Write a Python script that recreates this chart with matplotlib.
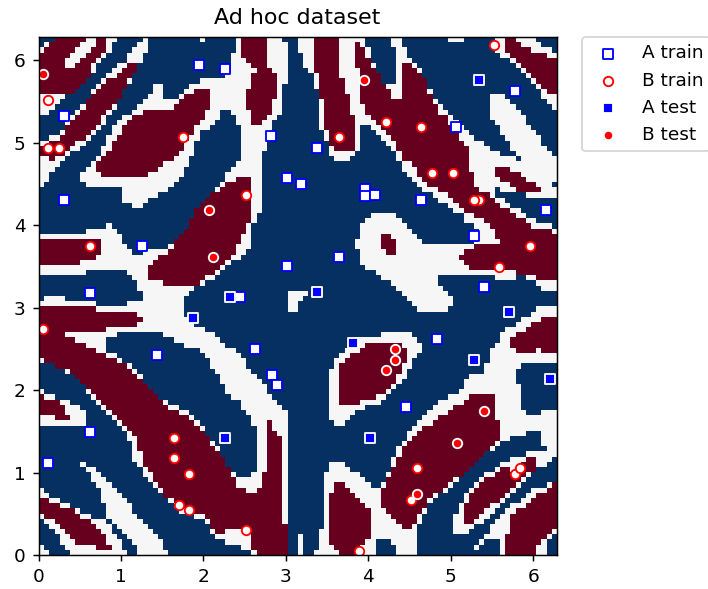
import numpy as np
import matplotlib
matplotlib.use('Agg')
import matplotlib.pyplot as plt
from matplotlib.path import Path

# Training and test samples (radians)
a_train_x = [1.95, 2.26, 0.315, 2.82, 3.01, 3.18, 0.315, 1.26, 3.01, 0.62, 2.45, 3.38, 3.96, 3.96, 4.08, 4.64,
             5.07, 5.78, 6.15, 5.28, 3.64, 5.40, 1.44, 2.63, 2.83, 2.89, 0.62, 0.12, 4.83, 4.46]
a_train_y = [5.94, 5.89, 5.32, 5.08, 4.57, 4.50, 4.31, 3.75, 3.50, 3.18, 3.13, 4.94, 4.44, 4.35, 4.37, 4.31,
             5.19, 5.63, 4.19, 3.87, 3.62, 3.25, 2.43, 2.50, 2.18, 2.06, 1.49, 1.11, 2.62, 1.80]
b_train_x = [0.12, 0.11, 0.25, 1.75, 2.52, 0.62, 5.52, 3.64, 4.21, 4.64, 4.77, 5.03, 5.34, 5.28, 5.96, 5.58,
             0.06, 1.64, 1.64, 1.82, 1.70, 1.82, 2.52, 4.59, 4.52, 5.78, 5.84, 3.89]
b_train_y = [5.52, 4.94, 4.94, 5.07, 4.37, 3.75, 6.19, 5.07, 5.25, 5.19, 4.63, 4.63, 4.31, 4.31, 3.75, 3.49,
             2.74, 1.42, 1.18, 0.98, 0.61, 0.54, 0.30, 1.05, 0.67, 0.98, 1.05, 0.05]
a_test_x = [2.32, 5.34, 3.38, 1.88, 2.26, 3.82, 5.71, 5.28, 6.21, 4.02]
a_test_y = [3.13, 5.76, 3.19, 2.88, 1.42, 2.57, 2.95, 2.37, 2.13, 1.42]
b_test_x = [0.06, 2.07, 2.12, 3.95, 4.33, 4.33, 4.21, 5.40, 5.08, 4.59]
b_test_y = [5.83, 4.19, 3.62, 5.76, 2.50, 2.37, 2.24, 1.75, 1.36, 0.74]

# Class regions of the background, outlined on 3x crops of the chart.
# Each list holds outlines for one crop, the crop corner is in CROPS.
CROPS = {'tl': (30, 30), 'tr': (295, 30), 'bl': (30, 295), 'br': (295, 295)}

white_regions = {
    'tl': [
        [(20, 45), (55, 38), (75, 20), (258, 20), (240, 50), (225, 80), (195, 110), (178, 140), (130, 180),
         (85, 205), (60, 235), (40, 255), (20, 255)],
        [(20, 470), (40, 470), (55, 425), (85, 395), (150, 350), (165, 335), (195, 300), (230, 265), (290, 165),
         (320, 120), (322, 100), (352, 60), (352, 20), (320, 28), (290, 82), (240, 120), (210, 155), (150, 225),
         (100, 285), (70, 315), (40, 335), (20, 340)],
        [(150, 430), (195, 385), (240, 300), (290, 250), (340, 210), (370, 165), (395, 165), (395, 210), (430, 210),
         (490, 155), (540, 145), (600, 130), (615, 20), (755, 20), (772, 60), (772, 160), (755, 160), (755, 235),
         (725, 280), (695, 380), (695, 520), (665, 600), (660, 660), (600, 700), (550, 745), (480, 780), (460, 815),
         (340, 815), (320, 760), (290, 735), (285, 720), (200, 720), (150, 730), (20, 735), (20, 705), (130, 705),
         (190, 680), (210, 675), (210, 625), (40, 625), (20, 640), (20, 610), (150, 610), (165, 595), (240, 585),
         (270, 610), (290, 660), (320, 675), (352, 660), (400, 655), (430, 625), (475, 580), (490, 545), (540, 490),
         (570, 460), (600, 410), (630, 385), (630, 290), (600, 240), (570, 240), (568, 270), (505, 310), (475, 400),
         (430, 470), (365, 500), (320, 535), (275, 505), (275, 470), (180, 470), (150, 450)],
        [(505, 20), (520, 20), (520, 36), (505, 36)],
    ],
    'tr': [
        [(5, 20), (180, 20), (180, 100), (195, 205), (220, 280), (195, 290), (195, 345), (178, 380), (130, 390),
         (100, 365), (85, 300), (70, 285), (70, 205), (52, 130), (40, 130), (25, 90), (5, 40)],
        [(180, 20), (210, 20), (225, 80), (240, 110), (258, 145), (270, 160), (305, 160), (305, 80), (290, 40),
         (290, 20), (320, 20), (335, 70), (365, 105), (385, 130), (410, 185), (430, 210), (475, 265), (520, 305),
         (520, 400), (548, 475), (600, 505), (650, 545), (690, 570), (720, 590), (770, 595), (790, 595), (790, 750),
         (600, 735), (535, 720), (490, 680), (505, 645), (540, 645), (565, 630), (550, 590), (510, 570), (490, 545),
         (430, 510), (380, 475), (350, 440), (320, 415), (305, 380), (290, 350), (240, 300), (225, 280), (195, 290)],
        [(475, 265), (520, 305), (550, 330), (600, 365), (650, 380), (695, 395), (645, 345), (615, 300), (585, 260),
         (585, 190), (625, 190), (660, 225), (690, 260), (720, 305), (755, 350), (790, 380), (790, 460), (770, 460),
         (770, 472), (790, 475), (790, 505), (740, 500), (680, 490), (600, 475), (600, 510), (540, 480), (490, 300)],
        [(600, 490), (630, 510), (660, 535), (690, 550), (725, 570), (760, 582), (790, 590), (790, 610), (740, 605),
         (690, 580), (600, 520)],
        [(180, 640), (195, 595), (210, 565), (240, 550), (300, 550), (320, 580), (350, 600), (380, 625), (400, 645),
         (505, 645), (505, 660), (490, 680), (535, 720), (425, 720), (425, 750), (460, 790), (475, 815), (335, 815),
         (300, 770), (270, 745), (240, 730), (210, 705), (195, 690), (195, 655), (180, 655)],
        [(550, 595), (600, 600), (615, 640), (550, 645), (505, 660), (505, 645), (540, 645)],
        [(425, 720), (540, 720), (600, 735), (725, 750), (790, 752), (790, 785), (770, 785), (725, 770), (720, 752),
         (600, 750), (595, 735), (425, 735)],
        [(590, 20), (710, 20), (740, 45), (790, 70), (790, 240), (770, 235), (745, 195), (720, 170), (690, 135),
         (660, 105), (630, 80), (600, 55)],
        [(460, 20), (505, 20), (505, 36), (460, 36)],
    ],
    'bl': [
        [(20, 33), (38, 5), (100, 5), (100, 17), (195, 17), (195, 30), (285, 30), (285, 15), (335, 15), (335, 0),
         (460, 0), (460, 50), (505, 95), (555, 120), (585, 145), (630, 180), (660, 225), (700, 270), (740, 320),
         (770, 345), (770, 785), (680, 785), (660, 765), (600, 745), (550, 720), (520, 680), (480, 660), (430, 640),
         (400, 610), (365, 570), (335, 530), (305, 490), (300, 435), (270, 395), (230, 360), (180, 310), (165, 285),
         (150, 260), (130, 235), (100, 225), (70, 208), (20, 208)],
        [(20, 285), (40, 285), (40, 300), (85, 310), (115, 320), (165, 345), (165, 390), (20, 390)],
        [(150, 505), (165, 505), (165, 518), (195, 520), (225, 560), (270, 595), (305, 640), (335, 675), (365, 705),
         (395, 745), (412, 785), (335, 785), (320, 760), (290, 720), (260, 690), (240, 670), (225, 670), (225, 640),
         (210, 590), (180, 545), (150, 515)],
        [(20, 580), (40, 580), (40, 595), (70, 610), (100, 625), (135, 640), (180, 660), (225, 680), (240, 700),
         (260, 730), (290, 785), (118, 785), (85, 730), (70, 710), (40, 670), (20, 655)],
        [(20, 750), (35, 750), (55, 785), (20, 785)],
    ],
    'br': [
        [(-30, -20), (35, -20), (35, 5), (20, 15), (5, 45), (-18, 45), (-18, 30), (-30, 10)],
        [(320, 0), (475, 0), (475, 30), (440, 48), (380, 48), (350, 25), (335, 0)],
        [(102, 235), (115, 210), (130, 175), (165, 140), (195, 130), (255, 125), (255, 110), (348, 110), (350, 125),
         (380, 145), (380, 175), (365, 175), (350, 215), (320, 255), (290, 285), (255, 320), (195, 345), (160, 360),
         (145, 390), (115, 390), (102, 360)],
        [(85, 550), (105, 500), (145, 500), (165, 520), (195, 545), (225, 565), (255, 590), (270, 555), (305, 460),
         (335, 420), (380, 370), (415, 330), (490, 285), (520, 245), (565, 230), (585, 170), (610, 130), (640, 100),
         (680, 70), (740, 35), (790, 35), (790, 470), (750, 470), (740, 435), (750, 420), (720, 408), (660, 420),
         (615, 440), (570, 480), (520, 530), (475, 570), (430, 600), (400, 635), (380, 660), (365, 710), (365, 785),
         (305, 785), (305, 750), (275, 735), (258, 720), (240, 735), (240, 785), (55, 785), (55, 765), (70, 750),
         (70, 710), (85, 700)],
        [(475, 720), (475, 675), (490, 640), (505, 605), (540, 570), (585, 530), (630, 500), (700, 475), (740, 470),
         (790, 470), (790, 485), (725, 520), (690, 550), (645, 595), (600, 640), (565, 680), (520, 705), (505, 720)],
        [(535, 750), (570, 720), (600, 680), (640, 640), (705, 590), (770, 560), (790, 560), (790, 705), (755, 745),
         (750, 785), (615, 785), (615, 735), (570, 735), (555, 765), (535, 765)],
        [(0, 725), (20, 725), (20, 785), (0, 785)],
    ],
}

blue_regions = {
    'bl': [
        [(225, 130), (290, 110), (395, 110), (395, 125), (445, 140), (490, 160), (520, 170), (540, 220), (570, 240),
         (570, 265), (600, 300), (630, 320), (645, 350), (660, 375), (680, 400), (680, 510), (660, 545), (630, 545),
         (600, 520), (585, 500), (555, 440), (520, 405), (490, 360), (430, 330), (385, 305), (350, 270), (320, 230),
         (270, 190), (225, 165)],
    ],
    'br': [
        [(660, 225), (675, 210), (790, 205), (790, 345), (695, 360), (677, 345), (677, 280), (660, 260)],
    ],
}

red_regions = {
    'tl': [
        [(20, 70), (60, 40), (85, 20), (165, 20), (120, 70), (100, 90), (100, 115), (120, 110), (180, 60), (205, 20),
         (225, 20), (220, 60), (180, 100), (178, 130), (130, 180), (85, 195), (20, 195)],
        [(20, 375), (20, 350), (75, 330), (100, 300), (150, 240), (210, 165), (225, 150), (270, 130), (285, 100),
         (320, 85), (320, 115), (285, 165), (270, 195), (225, 250), (195, 285), (150, 330), (105, 360), (70, 390)],
        [(195, 410), (225, 365), (270, 310), (285, 270), (340, 240), (410, 240), (430, 220), (490, 180), (538, 178),
         (538, 235), (505, 270), (490, 305), (445, 365), (395, 405), (365, 425), (320, 440), (210, 440)],
        [(630, 20), (708, 20), (708, 95), (740, 130), (740, 170), (725, 235), (695, 280), (665, 280), (660, 240),
         (645, 210), (660, 150), (680, 120), (660, 95), (630, 80)],
        [(352, 705), (395, 675), (430, 640), (475, 590), (490, 550), (540, 490), (600, 455), (615, 440), (662, 440),
         (662, 565), (630, 630), (600, 680), (550, 725), (490, 765), (415, 768), (352, 740)],
        [(20, 642), (40, 625), (210, 625), (210, 675), (190, 680), (130, 705), (20, 705)],
    ],
    'tr': [
        [(52, 20), (130, 20), (130, 130), (145, 160), (145, 190), (162, 190), (162, 255), (178, 255), (178, 345),
         (162, 365), (130, 365), (100, 330), (100, 300), (85, 285), (85, 215), (70, 205), (70, 130), (52, 130)],
        [(180, 40), (195, 40), (210, 70), (240, 115), (270, 160), (290, 180), (290, 205), (318, 205), (318, 80),
         (350, 110), (385, 130), (400, 185), (430, 240), (460, 265), (490, 320), (520, 350), (520, 400), (548, 475),
         (600, 505), (615, 520), (650, 545), (690, 570), (720, 590), (770, 595), (770, 610), (790, 610), (790, 750),
         (725, 750), (725, 735), (600, 720), (540, 720), (490, 680), (505, 660), (550, 645), (615, 640), (600, 610),
         (550, 560), (510, 545), (490, 515), (430, 480), (380, 450), (350, 400), (320, 385), (300, 340), (260, 300),
         (225, 265), (195, 205)],
        [(255, 610), (288, 610), (305, 630), (305, 675), (272, 675), (272, 660), (255, 655)],
        [(600, 410), (645, 410), (735, 475), (735, 490), (680, 490), (640, 460), (600, 440)],
        [(630, 20), (660, 20), (680, 40), (720, 65), (770, 75), (790, 100), (790, 205), (770, 190), (745, 175),
         (720, 150), (690, 115), (660, 85), (630, 60)],
    ],
    'bl': [
        [(20, 35), (195, 35), (195, 50), (305, 50), (335, 70), (320, 95), (245, 100), (100, 115), (150, 145),
         (225, 180), (270, 205), (305, 225), (335, 260), (385, 310), (430, 345), (490, 375), (525, 420), (565, 470),
         (600, 520), (615, 580), (660, 590), (685, 580), (705, 520), (708, 378), (725, 380), (740, 420), (755, 425),
         (755, 630), (770, 720), (770, 785), (680, 785), (665, 750), (660, 720), (615, 690), (600, 705), (570, 720),
         (540, 690), (520, 660), (480, 640), (430, 620), (400, 600), (385, 570), (352, 530), (335, 490), (320, 440),
         (300, 410), (270, 375), (230, 340), (180, 290), (150, 250), (115, 225), (70, 210), (20, 190)],
        [(20, 300), (55, 315), (85, 320), (105, 345), (118, 378), (72, 378), (72, 360), (20, 360)],
        [(20, 600), (70, 625), (115, 640), (150, 660), (180, 680), (210, 710), (240, 750), (240, 765), (150, 750),
         (120, 730), (85, 695), (60, 670), (20, 650)],
    ],
    'br': [
        [(130, 230), (130, 205), (165, 185), (195, 160), (225, 143), (318, 143), (332, 160), (332, 205), (318, 210),
         (318, 235), (285, 270), (255, 300), (225, 320), (195, 320), (130, 328)],
        [(255, 597), (285, 540), (305, 490), (350, 425), (410, 380), (475, 340), (535, 300), (598, 300), (598, 378),
         (615, 378), (615, 435), (570, 470), (520, 520), (475, 560), (430, 590), (400, 620), (380, 650), (348, 700),
         (318, 700), (290, 665), (255, 630)],
        [(100, 620), (115, 580), (130, 562), (145, 562), (165, 590), (195, 610), (222, 640), (222, 720), (205, 745),
         (190, 785), (130, 785), (130, 765), (102, 735)],
        [(645, 130), (700, 95), (735, 70), (790, 65), (790, 175), (735, 175), (735, 158), (720, 158), (720, 175),
         (675, 175), (645, 155)],
        [(505, 630), (520, 610), (570, 550), (600, 545), (630, 515), (660, 530), (695, 490), (725, 485), (725, 520),
         (690, 540), (645, 585), (615, 610), (570, 650), (520, 688), (505, 670)],
        [(630, 785), (645, 670), (675, 640), (720, 610), (770, 565), (790, 565), (790, 700), (755, 720), (735, 745),
         (710, 785)],
    ],
}

grid_size = 100
cell = 2 * np.pi / grid_size
centers = (np.arange(grid_size) + 0.5) * cell
gx, gy = np.meshgrid(centers, centers)
cell_points = np.column_stack([gx.ravel(), gy.ravel()])


def paint(grid, regions, value):
    for crop, outlines in regions.items():
        left, top = CROPS[crop]
        for outline in outlines:
            pts = np.array(outline, dtype=float)
            xs = (left + pts[:, 0] / 3 - 38) / 82.6
            ys = (555 - (top + pts[:, 1] / 3)) / 82.6
            inside = Path(np.column_stack([xs, ys])).contains_points(cell_points)
            grid[inside.reshape(grid.shape)] = value


grid = np.ones((grid_size, grid_size))
paint(grid, white_regions, 0)
paint(grid, blue_regions, 1)
paint(grid, red_regions, -1)

fig = plt.figure(figsize=(708 / 133, 589 / 133), dpi=133)
ax = fig.add_axes([38 / 708, 34 / 589, 519 / 708, 518 / 589])

ax.imshow(grid, interpolation='nearest', origin='lower', cmap='RdBu', vmin=-1, vmax=1,
          extent=[0, 2 * np.pi, 0, 2 * np.pi])

ax.scatter(a_train_x, a_train_y, s=26, marker='s', facecolors='w', edgecolors='b', label='A train')
ax.scatter(b_train_x, b_train_y, s=26, marker='o', facecolors='w', edgecolors='r', label='B train')
ax.scatter(a_test_x, a_test_y, s=26, marker='s', facecolors='b', edgecolors='w', label='A test')
ax.scatter(b_test_x, b_test_y, s=26, marker='o', facecolors='r', edgecolors='w', label='B test')

ax.set_xlim(0, 2 * np.pi)
ax.set_ylim(0, 2 * np.pi)
ax.legend(bbox_to_anchor=(1.05, 1), loc='upper left', borderaxespad=0.0)
ax.set_title('Ad hoc dataset', pad=7)

fig.savefig('out.png', dpi=133)
